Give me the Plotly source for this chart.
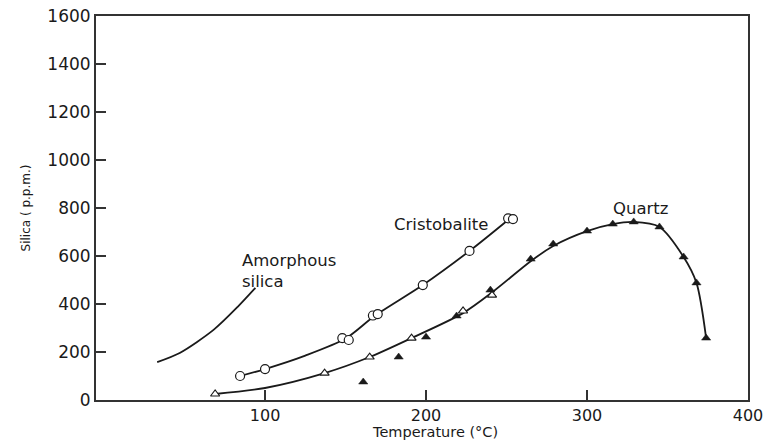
import plotly.graph_objects as go

# ---- data ----
amorph_T = [33, 47, 68, 83, 94]
amorph_S = [158, 196, 292, 388, 467]

crist_T = [84.5, 100, 148, 152, 167, 170, 198, 227, 251, 254]
crist_S = [100, 129, 258, 250, 352, 358, 479, 621, 757, 754]
crist_curve_T = [84.5, 100, 125, 150, 168, 198, 227, 250]
crist_curve_S = [100, 129, 185, 256, 350, 479, 621, 745]

qz_open_T = [69, 137, 165, 191, 223, 241]
qz_open_S = [25, 112, 179, 258, 371, 437]
qz_fill_T = [161, 183, 200, 219, 240, 265, 279, 300, 316, 329, 345, 360, 368, 374]
qz_fill_S = [75, 179, 262, 350, 458, 587, 650, 704, 733, 742, 721, 596, 488, 258]
qz_curve_T = [69, 100, 137, 165, 191, 223, 241, 265, 279, 300, 316, 329, 345, 360, 368, 374]
qz_curve_S = [25, 50, 112, 179, 258, 362, 448, 578, 642, 704, 733, 742, 721, 596, 488, 258]

y_ticks = [0, 200, 400, 600, 800, 1000, 1200, 1400, 1600]
x_ticks = [100, 200, 300, 400]

FONT = "DejaVu Sans"
INK = "#1a1a1a"

fig = go.Figure()
line = dict(color=INK, width=1.8, shape="spline", smoothing=0.8)
fig.add_trace(go.Scatter(x=amorph_T, y=amorph_S, mode="lines", line=line, hoverinfo="skip"))
fig.add_trace(go.Scatter(x=crist_curve_T, y=crist_curve_S, mode="lines", line=line, hoverinfo="skip"))
fig.add_trace(go.Scatter(x=qz_curve_T, y=qz_curve_S, mode="lines", line=line, hoverinfo="skip"))
fig.add_trace(go.Scatter(x=crist_T, y=crist_S, mode="markers",
                         marker=dict(symbol="circle", size=9, color="white",
                                     line=dict(color=INK, width=1.2))))
fig.add_trace(go.Scatter(x=qz_open_T, y=qz_open_S, mode="markers",
                         marker=dict(symbol="triangle-up", size=8, color="white",
                                     line=dict(color=INK, width=1.1))))
fig.add_trace(go.Scatter(x=qz_fill_T, y=qz_fill_S, mode="markers",
                         marker=dict(symbol="triangle-up", size=8, color=INK,
                                     line=dict(color=INK, width=0.5))))

ann_font = dict(family=FONT, size=16.5, color=INK)
fig.add_annotation(x=84.5, y=537, text="Amorphous<br>silica", showarrow=False,
                   xanchor="left", yanchor="middle", align="left", font=ann_font)
fig.add_annotation(x=209, y=733, text="Cristobalite", showarrow=False,
                   xanchor="center", yanchor="middle", font=ann_font)
fig.add_annotation(x=333, y=796, text="Quartz", showarrow=False,
                   xanchor="center", yanchor="middle", font=ann_font)
# x-axis title placed below the tick labels
fig.add_annotation(xref="paper", yref="paper", x=0.52, y=0, yshift=-32,
                   text="Temperature (°C)", showarrow=False,
                   xanchor="center", yanchor="middle",
                   font=dict(family=FONT, size=14.5, color=INK))

axis_common = dict(showgrid=False, zeroline=False, showline=True, linecolor="#333333",
                   linewidth=2, mirror=True, ticks="inside", ticklen=10, tickwidth=1.5,
                   tickcolor="#333333", automargin=False)
fig.update_xaxes(range=[-5, 400], tickvals=x_ticks, **axis_common,
                 tickfont=dict(family=FONT, size=16, color=INK))
fig.update_yaxes(range=[0, 1600], tickvals=y_ticks, **axis_common,
                 tickfont=dict(family=FONT, size=17, color=INK),
                 title=dict(text="Silica ( p.p.m.)", font=dict(family=FONT, size=12, color=INK),
                            standoff=14))

fig.update_layout(width=775, height=441, showlegend=False,
                  margin=dict(l=96, r=27, t=16, b=41),
                  paper_bgcolor="white", plot_bgcolor="white")

fig.write_html("out.html")
